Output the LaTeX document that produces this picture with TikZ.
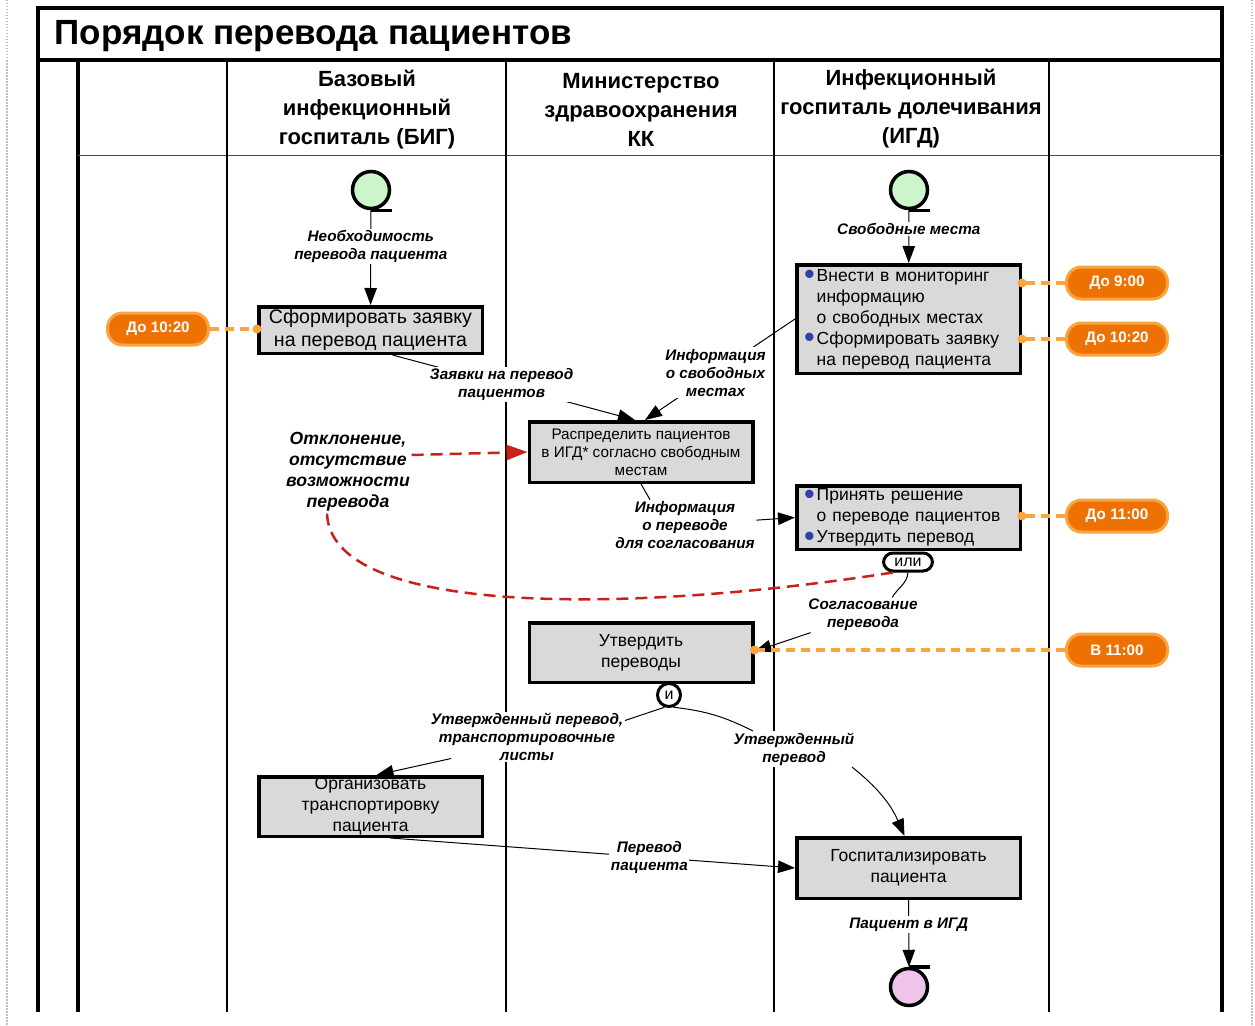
\documentclass[tikz,border=0pt]{standalone}
\usepackage{fontspec}
\setmainfont{Liberation Sans}
\usetikzlibrary{arrows.meta}
\definecolor{taskgray}{HTML}{D9D9D9}
\definecolor{startgreen}{HTML}{CCF5CC}
\definecolor{stoppink}{HTML}{EEC4EA}
\definecolor{timeorange}{HTML}{EE7203}
\definecolor{timelight}{HTML}{F9A43E}
\definecolor{devred}{HTML}{C8201A}
\definecolor{dotblue}{HTML}{3040A8}
\newcommand*{\bluedot}{\textcolor{dotblue}{\raisebox{-3.6pt}{\scalebox{1.75}{\textbullet}}}}
\tikzstyle{task} = [draw, line width=3.5pt, fill=taskgray, inner sep=0pt, minimum width=223.5pt, align=center, font=\fontsize{17.5}{21}\selectfont]
\tikzstyle{bigtask} = [task, font=\fontsize{19.6}{23}\selectfont]
\tikzstyle{smalltask} = [task, font=\fontsize{15.3}{18}\selectfont]
\tikzstyle{listtask} = [task, align=left, text width=209pt, inner xsep=7pt]
\tikzstyle{event} = [circle, draw, line width=3.5pt, minimum size=37pt, inner sep=0pt]
\tikzstyle{head} = [align=center, font=\fontsize{22}{29}\selectfont\bfseries]
\tikzstyle{flow} = [align=center, fill=white, inner sep=1.5pt, font=\fontsize{15.3}{18}\selectfont\bfseries\itshape]
\tikzstyle{gate} = [draw, line width=3pt, fill=white, inner sep=1pt, font=\fontsize{16}{18}\selectfont]
\tikzstyle{badge} = [draw=timelight, line width=3pt, fill=timeorange, rounded corners=15pt, minimum width=101pt, minimum height=32pt, text=white, font=\fontsize{15.2}{17}\selectfont\bfseries]
\tikzstyle{line} = [line width=1pt]
\tikzstyle{link} = [line, -{Triangle[length=17pt, width=12.5pt]}]
\tikzstyle{timer} = [timelight, line width=3.5pt, dash pattern=on 9pt off 6pt]
\tikzstyle{devline} = [devred, line width=2.5pt, dash pattern=on 12pt off 7pt]
\tikzstyle{frame} = [line width=3.5pt]
\tikzstyle{lane} = [line width=1.2pt]

\begin{document}
\begin{tikzpicture}[x=1pt, y=-1pt]
    \useasboundingbox (0,0) rectangle (1255,1025);
    \draw [black!25, line width=1.5pt, dash pattern=on 1.5pt off 1.5pt] (7,0) -- (7,1025);
    \draw [black!25, line width=1.5pt, dash pattern=on 1.5pt off 1.5pt] (1252,0) -- (1252,1025);

    % Pool and lanes.
    \draw [frame] (38,1012) -- (38,8) -- (1222,8) -- (1222,1012);
    \draw [frame] (38,60) -- (1222,60);
    \draw [frame] (78,60) -- (78,1012);
    \draw [black!70, line width=1pt] (78,155) -- (1222,155);
    \foreach \x in {227,506,774,1049} {
        \draw [lane] (\x,60) -- (\x,1012);
    }
    \node (title) [anchor=west, font=\fontsize{35}{40}\selectfont\bfseries] at (51,36) {Порядок перевода пациентов};
    \node (lane1) [head] at (367,109.5) {Базовый\\инфекционный\\госпиталь (БИГ)};
    \node (lane2) [head] at (641,109.5) {Министерство\\здравоохранения\\КК};
    \node (lane3) [head] at (911,109) {Инфекционный\\госпиталь долечивания\\(ИГД)};

    % Events.
    \node (start1) [event, fill=startgreen] at (371,190) {};
    \node (start2) [event, fill=startgreen] at (909,190) {};
    \node (stop) [event, fill=stoppink] at (909,987) {};
    \draw [line width=3.5pt] (start1.south) -- ++(21,0);
    \draw [line width=3.5pt] (start2.south) -- ++(21,0);
    \draw [line width=3.5pt] (stop.north) -- ++(21,0);

    % Tasks.
    \node (box1) [bigtask, minimum height=46.5pt] at (370.5,330) {Сформировать заявку\\на перевод пациента};
    \node (box2) [listtask, minimum height=108.5pt] at (908.5,319) {\begin{tabular}{@{}l@{\hspace{2pt}}l@{}}
        \bluedot & Внести в мониторинг\\ & информацию\\ & о свободных местах\\
        \bluedot & Сформировать заявку\\ & на перевод пациента\end{tabular}};
    \node (dist) [smalltask, minimum height=60.5pt] at (641,452) {Распределить пациентов\\в ИГД* согласно свободным\\местам};
    \node (box3) [listtask, minimum height=63.5pt] at (908.5,517.5) {\begin{tabular}{@{}l@{\hspace{2pt}}l@{}}
        \bluedot & Принять решение\\ & о переводе пациентов\\
        \bluedot & Утвердить перевод\end{tabular}};
    \node (box4) [task, minimum height=59.5pt] at (641,652.5) {Утвердить\\переводы};
    \node (box5) [task, minimum height=59.5pt] at (370.5,806.5) {Организовать\\транспортировку\\пациента};
    \node (box6) [task, minimum height=60.5pt] at (908.5,868) {Госпитализировать\\пациента};

    % Gateways.
    \node (orgate) [gate, rounded corners=9.5pt, minimum width=49pt, minimum height=18pt] at (908,562) {или};
    \node (andgate) [gate, circle, minimum size=23pt] at (669,695) {и};

    % Labels.
    \node (infoB) [flow] at (685,525) {Информация\\о переводе\\для согласования};
    \node (agree) [flow] at (863,615) {Согласование\\перевода};
    \node (apprA) [flow] at (527,737) {Утвержденный перевод,\\транспортировочные\\листы};
    \node (apprB) [flow] at (794,749) {Утвержденный\\перевод};
    \node (dev) [flow, font=\fontsize{17.6}{21}\selectfont\bfseries\itshape] at (348,472) {Отклонение,\\отсутствие\\возможности\\перевода};

    % Flows.
    \draw [link] (start1) -- node [flow, pos=0.38] {Необходимость\\перевода пациента} (box1);
    \draw [link] (start2) -- node [flow, pos=0.35] {Свободные места} (box2);
    \draw [link] ([xshift=22pt]box1.south) -- node [flow, pos=0.45] {Заявки на перевод\\пациентов} ([xshift=-6pt]dist.north);
    \draw [link] (box2.west) -- node [flow, pos=0.53] {Информация\\о свободных\\местах} ([xshift=4pt]dist.north);
    \draw [line] (dist.south) -- ([xshift=-35pt]infoB.north);
    \draw [link] (infoB) -- (box3.west);
    \draw [line] (orgate.south) to [out=-95, in=60] ([xshift=-27pt]agree.north east);
    \draw [link] (agree) -- ([yshift=1pt]box4.east);
    \draw [line] (andgate.250) -- ([yshift=-9pt]apprA.north east);
    \draw [link] ([xshift=22pt, yshift=4pt]apprA.south west) -- ([xshift=6pt]box5.north);
    \draw [line] (andgate.290) to [bend left=10] ([xshift=21pt]apprB.north west);
    \draw [link] ([xshift=-4pt]apprB.south east) to [bend left=14] ([xshift=-4pt]box6.north);
    \draw [link] ([xshift=20pt]box5.south) -- node [flow, pos=0.64] {Перевод\\пациента} (box6.west);
    \draw [link] (box6) -- node [flow, pos=0.37] {Пациент в ИГД} (stop);

    % Deviation.
    \draw [devline] ([xshift=-15pt]orgate.south) .. controls (620,615) and (330,615) .. ([xshift=-21pt]dev.south);
    \draw [devline, -{Triangle[length=21pt, width=15pt]}] ([yshift=17pt]dev.east) -- (dist.west);

    % Timers.
    \node (time0) [badge] at (158,329) {До 10:20};
    \draw [timer] (time0.east) -- (box1.west |- time0);
    \fill [timelight] (box1.west |- time0) circle (4.5);
    \foreach \i/\y/\t/\b in {1/283/До 9:00/box2, 2/339/До 10:20/box2, 3/516/До 11:00/box3, 4/650/В 11:00/box4} {
        \node (time\i) [badge] at (1117,\y) {\t};
        \draw [timer] (time\i.west) -- (\b.east |- time\i);
        \fill [timelight] (\b.east |- time\i) circle (4.5);
    }
\end{tikzpicture}
\end{document}
